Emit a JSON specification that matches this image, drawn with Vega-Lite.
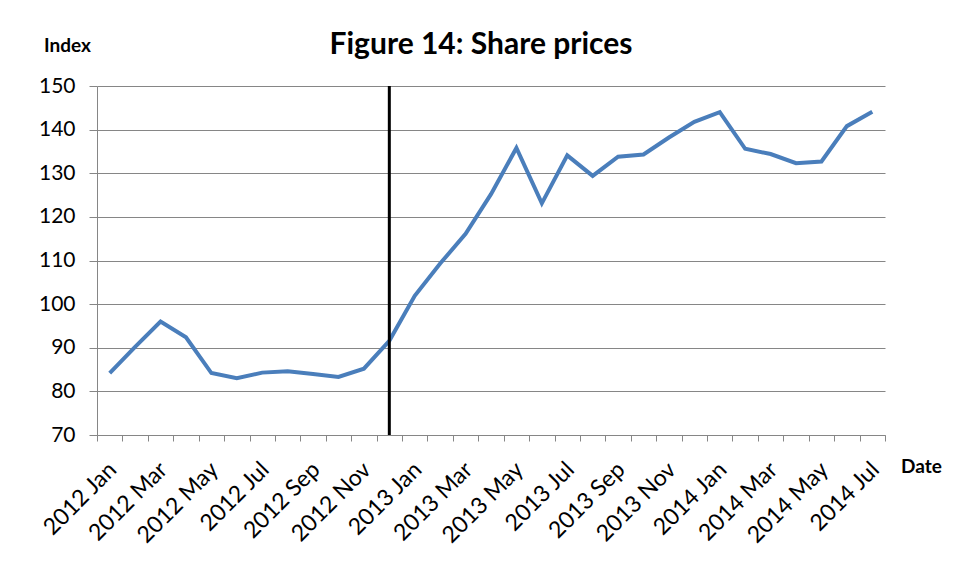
{
  "$schema": "https://vega.github.io/schema/vega-lite/v6.json",
  "autosize": {"type": "none"},
  "width": 788,
  "height": 349,
  "padding": {"left": 97, "top": 86, "right": 78, "bottom": 144},
  "background": "white",
  "config": {"view": {"stroke": null}, "font": "Lato"},
  "title": {"text": "Figure 14: Share prices", "fontSize": 30, "fontWeight": "bold", "font": "Lato", "color": "black", "anchor": "middle", "dx": -10, "offset": -24},
  "data": {"values": [
    {"month": "2012 Jan", "index": 84.2},
    {"month": "2012 Feb", "index": 90.2},
    {"month": "2012 Mar", "index": 96.0},
    {"month": "2012 Apr", "index": 92.4},
    {"month": "2012 May", "index": 84.2},
    {"month": "2012 Jun", "index": 83.0},
    {"month": "2012 Jul", "index": 84.3},
    {"month": "2012 Aug", "index": 84.6},
    {"month": "2012 Sep", "index": 84.0},
    {"month": "2012 Oct", "index": 83.3},
    {"month": "2012 Nov", "index": 85.2},
    {"month": "2012 Dec", "index": 91.6},
    {"month": "2013 Jan", "index": 101.9},
    {"month": "2013 Feb", "index": 109.3},
    {"month": "2013 Mar", "index": 116.1},
    {"month": "2013 Apr", "index": 125.2},
    {"month": "2013 May", "index": 135.8},
    {"month": "2013 Jun", "index": 123.1},
    {"month": "2013 Jul", "index": 134.1},
    {"month": "2013 Aug", "index": 129.4},
    {"month": "2013 Sep", "index": 133.8},
    {"month": "2013 Oct", "index": 134.3},
    {"month": "2013 Nov", "index": 138.2},
    {"month": "2013 Dec", "index": 141.8},
    {"month": "2014 Jan", "index": 144.0},
    {"month": "2014 Feb", "index": 135.6},
    {"month": "2014 Mar", "index": 134.4},
    {"month": "2014 Apr", "index": 132.3},
    {"month": "2014 May", "index": 132.7},
    {"month": "2014 Jun", "index": 140.8},
    {"month": "2014 Jul", "index": 144.1}
  ]},
  "layer": [
    {
      "mark": {"type": "line", "color": "#4a7ebb", "strokeWidth": 4},
      "encoding": {
        "x": {
          "field": "month", "type": "ordinal", "sort": null, "bandPosition": 0.5,
          "scale": {"type": "band", "paddingInner": 0, "paddingOuter": 0,
            "domain": ["2012 Jan","2012 Feb","2012 Mar","2012 Apr","2012 May","2012 Jun","2012 Jul","2012 Aug","2012 Sep","2012 Oct","2012 Nov","2012 Dec","2013 Jan","2013 Feb","2013 Mar","2013 Apr","2013 May","2013 Jun","2013 Jul","2013 Aug","2013 Sep","2013 Oct","2013 Nov","2013 Dec","2014 Jan","2014 Feb","2014 Mar","2014 Apr","2014 May","2014 Jun","2014 Jul"]},
          "axis": {
            "title": "Date", "titleAngle": 0, "titleX": 824, "titleY": 31,
            "titleFontSize": 19, "titleFontWeight": "bold", "titleAlign": "center", "titleBaseline": "middle", "titleColor": "black",
            "labelAngle": -45, "labelFontSize": 23, "labelColor": "black",
            "labelExpr": "test(/Jan|Mar|May|Jul|Sep|Nov/, datum.value) ? datum.value : ''",
            "labelOverlap": false, "tickBand": "extent", "tickSize": 6, "tickColor": "#868686",
            "domainColor": "#868686", "grid": false, "labelPadding": 17, "labelOffset": -5
          }
        },
        "y": {
          "field": "index", "type": "quantitative",
          "scale": {"domain": [70, 150], "nice": false, "zero": false},
          "axis": {
            "title": "Index", "titleAngle": 0, "titleX": -30, "titleY": -41,
            "titleAlign": "center", "titleBaseline": "middle", "titleFontSize": 19, "titleFontWeight": "bold", "titleColor": "black",
            "values": [70, 80, 90, 100, 110, 120, 130, 140, 150],
            "labelFontSize": 21, "labelColor": "black", "tickSize": 8, "labelPadding": 14,
            "gridColor": "#868686", "tickColor": "#868686", "domainColor": "#868686"
          }
        }
      }
    },
    {
      "data": {"values": [{"event": "2012 Dec"}]},
      "mark": {"type": "rule", "color": "black", "strokeWidth": 3},
      "encoding": {
        "x": {"field": "event", "type": "ordinal", "bandPosition": 0.5}
      }
    }
  ]
}
